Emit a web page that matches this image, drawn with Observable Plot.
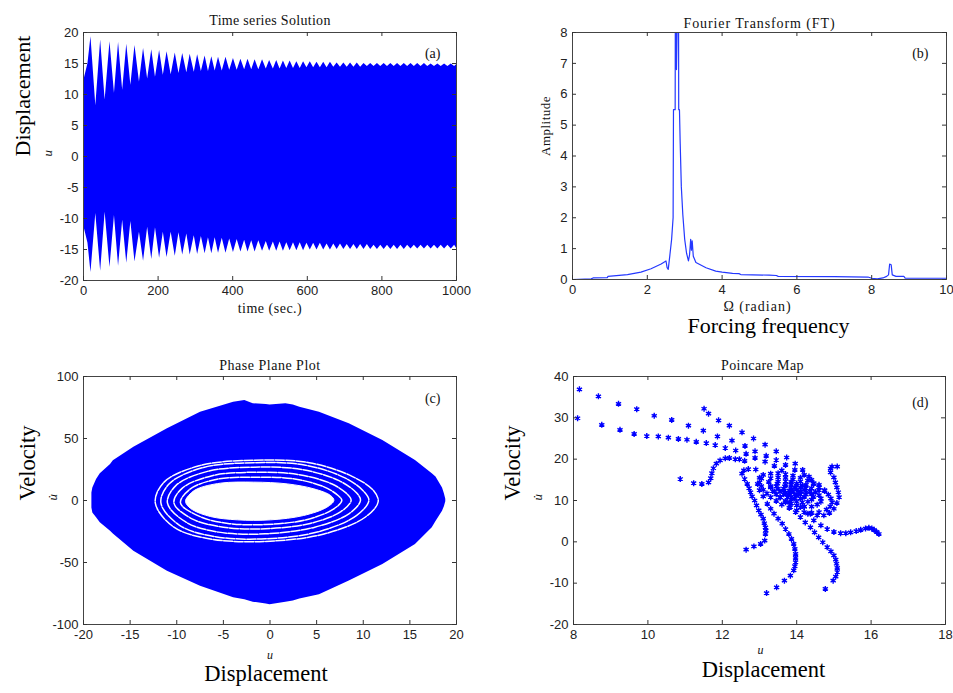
<!DOCTYPE html>
<html><head><meta charset="utf-8">
<script src="https://cdn.jsdelivr.net/npm/d3@7"></script>
<script src="https://cdn.jsdelivr.net/npm/@observablehq/plot@0.6"></script>
<style>
body{margin:0;background:#fff;}
#wrap{position:relative;width:953px;height:693px;overflow:hidden;background:#fff;}
</style></head><body><div id="wrap"></div>
<script>
// ---------- (a) time series: envelope read at beat peaks / gaps [t, upper, lower]
const tsEnvelope = [
[0,12,-11],[12,15,-14],[20,19.3,-18.7],[33,8.2,-9.2],[46,18.8,-18.5],[58,9.1,-9.0],
[71,18.5,-17.9],[83,10.2,-9.5],[94,18.4,-17.7],[105,10.7,-10.3],[116,18.1,-17.2],[127,11.5,-10.5],
[138,17.9,-17.0],[150,12,-12.2],[161,17.4,-16.9],[172,12.5,-11.4],[183,17.2,-16.6],[193,12.8,-11.5],
[204,17.1,-16.4],[214,13.1,-12.2],[224,16.9,-16.3],[235,13.2,-12.2],[246,16.7,-16.1],[256,13.4,-12.3],
[266,16.6,-15.9],[277,13.5,-12.5],[286,16.5,-15.9],[297,13.6,-12.8],[306,16.4,-15.8],[316,13.7,-12.9],
[326,16.2,-15.7],[335,13.7,-13.1],[344,16.1,-15.7],[353,13.8,-13.1],[362,16.0,-15.6],[372,13.8,-13.2],
[382,16.0,-15.6],[392,13.9,-13.3],[402,15.8,-15.5],[412,13.9,-13.4],[422,15.7,-15.4],[432,14.0,-13.5],
[441,15.7,-15.4],[451,14.0,-13.6],[460,15.6,-15.4],[470,14.0,-13.6],[480,15.6,-15.3],[490,14.1,-13.7],
[499,15.5,-15.3],[509,14.1,-13.8],[518,15.5,-15.3],[527,14.1,-13.8],[536,15.4,-15.3],[545,14.2,-13.9],
[554,15.4,-15.2],[563,14.2,-13.9],[572,15.3,-15.2],[581,14.2,-13.9],[590,15.3,-15.2],[599,14.3,-14.0],
[608,15.3,-15.1],[617,14.3,-14.0],[626,15.2,-15.1],[635,14.3,-14.0],[644,15.2,-15.1],[653,14.3,-14.1],
[662,15.2,-15.1],[671,14.4,-14.1],[680,15.1,-15.0],[689,14.4,-14.1],[698,15.1,-15.0],[707,14.4,-14.2],
[716,15.1,-15.0],[725,14.4,-14.2],[734,15.1,-15.0],[743,14.4,-14.2],[752,15.0,-15.0],[761,14.5,-14.2],
[770,15.0,-15.0],[779,14.5,-14.3],[788,15.0,-15.0],[797,14.5,-14.3],[806,15.0,-15.0],[815,14.5,-14.3],
[824,15.0,-15.0],[833,14.5,-14.3],[842,15.0,-15.0],[851,14.5,-14.3],[860,15.0,-15.0],[869,14.5,-14.3],
[878,15.0,-14.9],[887,14.5,-14.3],[896,15.0,-14.9],[905,14.5,-14.3],[914,15.0,-14.9],[923,14.5,-14.3],
[932,14.9,-14.9],[941,14.5,-14.3],[950,14.9,-14.9],[959,14.5,-14.3],[968,14.9,-14.9],[977,14.5,-14.3],
[986,14.9,-14.9],[995,14.5,-14.3],[1000,14.8,-14.8]
];
const tsXTicks = [0,200,400,600,800,1000];
const tsYTicks = [-20,-15,-10,-5,0,5,10,15,20];

// ---------- (b) Fourier transform [omega, amplitude]
const ftSpectrum = [
[0,0],[0.5,0.02],[0.55,0.05],[0.93,0.06],[0.95,0.1],[1.47,0.16],[1.83,0.24],[2.1,0.35],[2.37,0.5],
[2.5,0.6],[2.53,0.38],[2.56,0.33],[2.6,0.75],[2.65,1.3],[2.69,2.0],[2.70,5.5],[2.745,5.5],[2.75,9],
[2.78,6.8],[2.81,9],[2.835,9],[2.84,5.5],[2.86,5.5],[2.88,4.4],[2.91,3.0],[2.95,2.1],[3.0,1.3],
[3.05,0.85],[3.1,0.6],[3.13,0.8],[3.16,1.3],[3.18,0.95],[3.2,1.25],[3.23,0.75],[3.3,0.55],[3.57,0.38],
[3.83,0.27],[4.0,0.24],[4.28,0.2],[4.45,0.19],[4.5,0.16],[5.26,0.14],[5.45,0.13],[5.5,0.1],[7.0,0.09],
[7.9,0.08],[8.0,0.04],[8.15,0.02],[8.3,0.05],[8.4,0.1],[8.45,0.15],[8.48,0.5],[8.52,0.48],[8.55,0.15],
[8.65,0.1],[8.86,0.1],[8.9,0.04],[10,0.04]
];
const ftXTicks = [0,2,4,6,8,10];
const ftYTicks = [0,1,2,3,4,5,6,7,8];

// ---------- (c) phase plane: outer boundary [u, upper v, lower v], hole and gap rings [u, v]
const phaseOuter = [
[-19.1,6,-6],[-19.0,10,-10],[-18.6,17,-14],[-18.2,21.5,-18],[-17.1,29,-24.7],[-16.8,32,-27],
[-14.6,43,-40.9],[-11.0,57.8,-57],[-7.45,71.2,-69.1],[-3.9,79.3,-78.5],[-2.7,80.6,-80],[-1.8,78,-82],
[-0.4,77.4,-83.5],[0,77,-84],[1.7,78,-82],[2.5,77,-81],[3.2,75.3,-79.5],[5.3,71.2,-76],[8.5,61.8,-65],
[12.1,48.4,-51.6],[15.6,32.3,-35.5],[17.4,21.5,-22],[17.8,18.9,-17],[18.5,10,-8.6],[18.7,5.4,-5],[18.85,1,-1]
];
const phaseHole = [[-9.06,0],[-8.6,5],[-7.8,9.4],[-5.3,14],[-1.74,14.8],[1.84,13.4],[4.7,9.4],[6.5,4],
[6.85,0],[6.1,-5.4],[3.6,-12.1],[0.05,-15.6],[-3.5,-15.6],[-6.4,-12.9],[-8.3,-7.5],[-8.95,-3]];
const ringA = [[7.7,0],[6.8,-7],[3.9,-15.5],[-0.5,-19.4],[-4.5,-18.5],[-7.5,-13],[-9.6,-2],[-8.6,9],[-5.8,17],[-1.7,18.8],[2.5,17.5],[5.8,11],[7.3,4]];
const ringB = [[8.7,0],[7.6,-9],[4.3,-18.5],[-0.5,-22.8],[-5,-21.5],[-8.3,-15],[-10.3,-2],[-9.4,10],[-6.2,20],[-1.7,22.8],[3,21],[6.6,13.5],[8.3,5]];
const ringC = [[9.7,0],[8.5,-10.5],[4.8,-21.5],[-0.5,-26.9],[-5.5,-25.5],[-9,-17.5],[-11,-2],[-10.1,12],[-6.7,23.5],[-1.7,26.9],[3.4,25],[7.4,16],[9.3,6]];
const ringD = [[10.6,0],[9.3,-12],[5.3,-25],[-0.5,-30.9],[-6,-29],[-9.7,-20],[-11.7,-2],[-10.8,13.5],[-7.2,26.5],[-1.7,30.5],[3.8,28.5],[8.1,18],[10.1,7]];
const ringE = [[11.6,-1],[10.2,-13.5],[5.8,-27],[-0.5,-33],[-6.4,-31],[-10.3,-21.5],[-12.3,-2],[-11.4,14.5],[-7.6,28],[-1.7,32.5],[4.2,30.5],[8.8,19.5],[11.1,8]];
const phXTicks = [-20,-15,-10,-5,0,5,10,15,20];
const phYTicks = [-100,-50,0,50,100];

// ---------- (d) Poincare map points [u, v]
const armA = [[8.16,36.9],[8.67,35.2],[9.21,33.4],[9.70,32.1],[10.17,30.5],[10.64,29.5],[11.09,28.1],[11.49,26.9],[11.87,25.5],[12.26,24.5],[12.61,23.2],[12.88,21.9],[13.18,20.8],[13.45,19.8],[13.7,18.6],[13.95,17.4],[14.2,16.2],[14.4,15],[14.6,13.8],[14.75,12.5]];
const armB = [[8.11,29.9],[8.76,28.3],[9.25,27.1],[9.63,26.1],[9.97,25.6],[10.28,25.5],[10.55,25.2],[10.82,24.9],[11.05,24.7],[11.30,24.2],[11.57,23.9],[11.81,23.4],[12.08,22.7],[12.36,22.1],[12.64,21.3],[12.88,20.3],[13.15,19.4],[13.4,18.4],[13.6,17.3]];
const armC = [[11.51,32.2],[11.63,31.0],[11.90,29.4],[12.19,28.1],[12.53,26.5],[12.84,25.0],[13.15,23.5],[13.45,21.9],[13.73,20.4],[13.96,18.9],[14.16,17.4],[14.33,15.8],[14.46,14.2],[14.6,12.5]];
const armD = [[10.87,15.2],[11.23,14.2],[11.45,14.0],[11.63,14.4],[11.69,15.4],[11.72,16.6],[11.76,17.8],[11.84,18.9],[11.94,19.7],[12.08,20.2],[12.19,20.3],[12.35,20.0],[12.46,20.0],[12.6,19.6]];
const armE = [[12.9,17.5],[12.7,17.6],[12.58,17.3],[12.53,16.5],[12.6,15.2],[12.67,14.0],[12.72,13],[12.76,12.0],[12.8,11],[12.87,10.0],[12.92,8.8],[12.98,7.6],[13.04,6.6],[13.1,5.6],[13.13,4.5],[13.16,3.5],[13.17,2.7],[13.16,1.9],[13.14,0.3],[13.03,-0.5],[12.85,-1.1],[12.64,-1.9]];
const armF = [[13.0,15.5],[12.95,14],[13.0,12.5],[13.1,11],[13.21,9.2],[13.3,8],[13.39,6.8],[13.5,5.6],[13.61,4.4],[13.7,3.1],[13.79,1.9],[13.86,0.7],[13.92,-0.5],[13.95,-1.7],[13.97,-2.9],[13.97,-3.9],[13.97,-4.9],[13.95,-5.9],[13.92,-6.9],[13.83,-8.2],[13.67,-9.4],[13.46,-11],[13.19,-12.4]];
const armG = [[13.3,13.5],[13.4,12.2],[13.56,10.8],[13.7,9.6],[13.83,8.4],[13.97,7.2],[14.10,6.0],[14.23,4.7],[14.37,3.5],[14.48,2.3],[14.59,1.1],[14.7,-0.1],[14.82,-1.3],[14.92,-2.3],[15.0,-3.3],[15.05,-4.3],[15.07,-5.3],[15.09,-6.3],[15.09,-7.3],[15.05,-8.4],[14.98,-9.4],[14.77,-11.4]];
const armH = [[13.8,9.5],[14.1,8.4],[14.3,6.8],[14.46,5.2],[14.65,4],[14.82,3.1],[15.0,2.4],[15.18,2.1],[15.32,2.1],[15.45,2.3],[15.6,2.6],[15.72,2.9],[15.85,3.2],[15.94,3.4],[16.02,3.2],[16.08,2.9],[16.15,2.4],[16.21,1.9]];
const armI = [[14.2,8.5],[14.37,6.8],[14.55,6.4],[14.73,6.4],[14.88,7.0],[15.0,8.0],[15.08,9.4],[15.14,10.8],[15.12,12.0],[15.08,13.2],[15.04,14.4],[15.0,15.6],[14.91,16.8],[14.91,17.7],[14.95,18.2],[15.09,18.2]];
const loop1 = [[13.1,16.2],[13.3,16.5],[13.5,16.6],[13.7,16.4],[13.9,16.0],[14.1,15.5],[14.3,14.8],[14.45,14.0],[14.6,13.2],[14.75,12.3],[14.85,11.4],[14.92,10.5],[14.95,9.6],[14.9,8.6],[14.8,7.8],[14.6,7.2],[14.4,7.0],[14.2,7.2],[14.0,7.6],[13.8,8.2],[13.6,9.0],[13.45,9.9],[13.3,10.8],[13.2,11.7],[13.1,12.6],[13.05,13.5],[13.0,14.4],[13.05,15.3]];
const loop2 = [[13.3,15.4],[13.5,15.6],[13.7,15.5],[13.9,15.1],[14.1,14.6],[14.25,13.8],[14.4,13.0],[14.5,12.1],[14.6,11.3],[14.65,10.5],[14.65,9.7],[14.55,9.0],[14.4,8.5],[14.2,8.5],[14.0,8.8],[13.85,9.3],[13.7,9.9],[13.55,10.7],[13.45,11.5],[13.35,12.3],[13.3,13.2],[13.25,14.5]];
const loop3 = [[13.5,14.6],[13.7,14.7],[13.85,14.5],[14.0,14.1],[14.15,13.6],[14.25,13.0],[14.35,12.3],[14.4,11.6],[14.45,10.9],[14.4,10.2],[14.3,9.7],[14.15,9.6],[14.0,9.7],[13.85,10.2],[13.75,10.8],[13.65,11.5],[13.55,12.2],[13.5,12.9],[13.45,13.5],[13.48,14.1]];
const loop4 = [[13.7,13.8],[13.85,13.8],[14.0,13.6],[14.1,13.1],[14.2,12.6],[14.25,12.0],[14.25,11.4],[14.2,10.9],[14.1,10.5],[13.95,10.5],[13.85,10.8],[13.78,11.3],[13.7,11.9],[13.65,12.4],[13.65,12.9],[13.68,13.4]];
const core = [[13.85,12.8],[14.0,12.6],[14.05,12.0],[13.95,11.5],[13.85,11.9],[13.9,12.3],[14.1,11.5],[13.8,12.4],[14.0,11.2],[13.95,13.1],[14.12,12.2],[13.78,11.6]];
const pmXTicks = [8,10,12,14,16,18];
const pmYTicks = [-20,-10,0,10,20,30,40];

// ---------- styling
const BLUE = "#0000ff";
const TICK = "#333";
const SANS = "'Liberation Sans', Arial, sans-serif";
const SERIF = "'Liberation Serif', 'Times New Roman', serif";
const wrap = document.getElementById("wrap");

function boxTicks(xt, yt, fw, fh, len = 4) {
  return [
    Plot.tickX(xt, {x: d => d, insetTop: fh - len, stroke: TICK}),
    Plot.tickX(xt, {x: d => d, insetBottom: fh - len, stroke: TICK}),
    Plot.tickY(yt, {y: d => d, insetRight: fw - len, stroke: TICK}),
    Plot.tickY(yt, {y: d => d, insetLeft: fw - len, stroke: TICK})
  ];
}
function axes(xt, yt) {
  return [
    Plot.axisX({ticks: xt, tickSize: 0, tickPadding: 5, tickFormat: d => String(d), label: null, fill: "#222"}),
    Plot.axisY({ticks: yt, tickSize: 0, tickPadding: 5, tickFormat: d => String(d), label: null, fill: "#222"})
  ];
}
function label(text, opts) {
  return Plot.text([text], {text: d => d, fontFamily: SERIF, fontSize: 14, fill: "#111", ...opts});
}
function panel({left, top, width, height, mL, mR, mT, mB, xd, yd, marks}) {
  const svg = Plot.plot({
    width, height, marginLeft: mL, marginRight: mR, marginTop: mT, marginBottom: mB,
    x: {domain: xd}, y: {domain: yd},
    style: {fontFamily: SANS, fontSize: "13px", background: "transparent", overflow: "visible"},
    marks
  });
  svg.style.position = "absolute";
  svg.style.left = left + "px";
  svg.style.top = top + "px";
  wrap.appendChild(svg);
  return svg;
}
const toRows = (name, arr) => arr.map(([u, v]) => ({g: name, u, v}));

// (a)
panel({left: 0, top: 0, width: 476, height: 346, mL: 83, mR: 20, mT: 32, mB: 66,
  xd: [0, 1000], yd: [-20, 20],
  marks: [
    Plot.areaY(tsEnvelope, {x: d => d[0], y1: d => d[2], y2: d => d[1], fill: BLUE}),
    Plot.frame({stroke: "#444"}),
    ...boxTicks(tsXTicks, tsYTicks, 373, 248),
    ...axes(tsXTicks, tsYTicks),
    label("Time series Solution", {frameAnchor: "top", dy: -17}),
    label("(a)", {frameAnchor: "top-right", dx: -16, dy: 16}),
    label("time (sec.)", {frameAnchor: "bottom", dy: 32}),
    label("u", {frameAnchor: "left", dx: -36, rotate: -90, fontStyle: "italic", fontSize: 13}),
    label("Displacement", {frameAnchor: "left", dx: -61, rotate: -90, fontSize: 22, fill: "#000"})
  ]});

// (b)
panel({left: 476, top: 0, width: 477, height: 346, mL: 96, mR: 7, mT: 32, mB: 67,
  xd: [0, 10], yd: [0, 8],
  marks: [
    Plot.line(ftSpectrum, {x: d => d[0], y: d => d[1], stroke: "#2438ff", strokeWidth: 1.2, clip: true}),
    Plot.frame({stroke: "#444"}),
    ...boxTicks(ftXTicks, ftYTicks, 374, 247),
    ...axes(ftXTicks, ftYTicks),
    label("Fourier Transform (FT)", {frameAnchor: "top", dy: -14}),
    label("(b)", {frameAnchor: "top-right", dx: -18, dy: 16}),
    label("Amplitude", {frameAnchor: "left", dx: -27, rotate: -90, fontSize: 13}),
    label("Ω (radian)", {frameAnchor: "bottom", dy: 31, dx: -2}),
    label("Forcing frequency", {frameAnchor: "bottom", dy: 53, dx: 9, fontSize: 22, fill: "#000"})
  ]});

// (c)
const ringRows = [...toRows("A", ringA), ...toRows("B", ringB), ...toRows("C", ringC), ...toRows("D", ringD), ...toRows("E", ringE)];
panel({left: 0, top: 346, width: 476, height: 347, mL: 83, mR: 20, mT: 30, mB: 69,
  xd: [-20, 20], yd: [-100, 100],
  marks: [
    Plot.areaY(phaseOuter, {x: d => d[0], y1: d => d[2], y2: d => d[1], fill: BLUE}),
    Plot.line(ringRows, {x: "u", y: "v", z: "g", curve: "catmull-rom-closed", stroke: "white", strokeWidth: 1.5, strokeDasharray: "9,1.5"}),
    Plot.line(toRows("hole", phaseHole), {x: "u", y: "v", curve: "catmull-rom-closed", fill: "white", stroke: "white", strokeWidth: 1}),
    Plot.frame({stroke: "#444"}),
    ...boxTicks(phXTicks, phYTicks, 373, 248),
    ...axes(phXTicks, phYTicks),
    label("Phase Plane Plot", {frameAnchor: "top", dy: -16}),
    label("(c)", {frameAnchor: "top-right", dx: -16, dy: 17}),
    label("u", {frameAnchor: "bottom", dy: 34, fontStyle: "italic", fontSize: 12}),
    label("Displacement", {frameAnchor: "bottom", dy: 56, dx: -4, fontSize: 22.5, fill: "#000"}),
    label("Velocity", {frameAnchor: "left", dx: -56, rotate: -90, fontSize: 22.5, fill: "#000"}),
    label("u\u0307", {frameAnchor: "left", dx: -31, rotate: -90, fontStyle: "italic", fontSize: 13})
  ]});

// (d)
const pmRows = [armA, armB, armC, armD, armE, armF, armG, armH, armI, loop1, loop2, loop3, loop4, core]
  .flatMap((arr, i) => toRows("s" + i, arr));
panel({left: 476, top: 346, width: 477, height: 347, mL: 97, mR: 8, mT: 30, mB: 69,
  xd: [8, 18], yd: [-20, 40],
  marks: [
    Plot.dot(pmRows, {x: "u", y: "v", r: 1.4, fill: BLUE}),
    Plot.dot(pmRows, {x: "u", y: "v", symbol: "asterisk", r: 2.8, stroke: BLUE, strokeWidth: 1.4}),
    Plot.frame({stroke: "#444"}),
    ...boxTicks(pmXTicks, pmYTicks, 372, 248),
    ...axes(pmXTicks, pmYTicks),
    label("Poincare Map", {frameAnchor: "top", dy: -16, dx: 3}),
    label("(d)", {frameAnchor: "top-right", dx: -17, dy: 21}),
    label("u", {frameAnchor: "bottom", dy: 29, dx: 1, fontStyle: "italic", fontSize: 12}),
    label("Displacement", {frameAnchor: "bottom", dy: 52, dx: 4, fontSize: 22.5, fill: "#000"}),
    label("Velocity", {frameAnchor: "left", dx: -61, rotate: -90, fontSize: 22.5, fill: "#000"}),
    label("u\u0307", {frameAnchor: "left", dx: -36, rotate: -90, fontStyle: "italic", fontSize: 13})
  ]});

// letter spacing of the small serif labels (bitmap-like wide spacing in the original)
const spacing = {"Time series Solution": 0.3, "Fourier Transform (FT)": 0.9, "Phase Plane Plot": 0.5,
  "Poincare Map": 0.4, "time (sec.)": 0.5, "Ω (radian)": 1, "Amplitude": 0.5};
d3.select(wrap).selectAll("text").each(function() {
  const t = this.textContent;
  if (t in spacing) this.style.letterSpacing = spacing[t] + "px";
});
</script></body></html>
